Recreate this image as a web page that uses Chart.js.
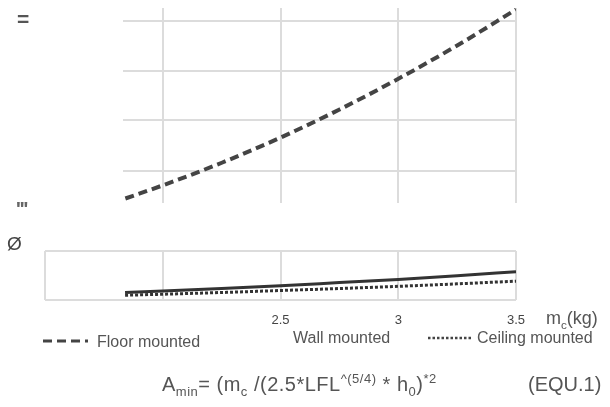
<!DOCTYPE html>
<html>
<head>
<meta charset="utf-8">
<script src="https://cdn.jsdelivr.net/npm/chart.js@4/dist/chart.umd.min.js"></script>
<style>
    html, body { margin: 0; padding: 0; background: #fff; }
    #wrap { position: relative; width: 610px; height: 407px; overflow: hidden; font-family: 'Liberation Sans', Arial, sans-serif; color: #555; }
    canvas { position: absolute; left: 0; top: 0; }
    .lbl { position: absolute; white-space: nowrap; line-height: 1; }
    .lbl sub, .lbl sup { font-size: 0.65em; line-height: 0; }
</style>
</head>
<body>
<div id="wrap">
    <canvas id="topChart" width="610" height="407"></canvas>
    <canvas id="bottomChart" width="610" height="407"></canvas>

    <!-- garbled axis marks on the left -->
    <div class="lbl" style="left:17px; top:8px; font-size:21px; font-weight:bold; color:#555;">=</div>
    <div class="lbl" style="left:16px; top:199px; font-size:20px; font-weight:bold; color:#666; letter-spacing:-1px;">'''</div>
    <div class="lbl" style="left:7px; top:234px; font-size:19px; color:#444;">Ø</div>

    <!-- axis title -->
    <div class="lbl" style="left:546px; top:309px; font-size:18px; color:#555;">m<sub>c</sub>(kg)</div>

    <!-- legend -->
    <svg style="position:absolute; left:42px; top:336px;" width="48" height="10">
        <line x1="1" y1="5" x2="46" y2="5" stroke="#444" stroke-width="3" stroke-dasharray="9,5"></line>
    </svg>
    <div class="lbl" style="left:97px; top:334px; font-size:16px;">Floor mounted</div>
    <div class="lbl" style="left:293px; top:330px; font-size:16px;">Wall mounted</div>
    <svg style="position:absolute; left:427px; top:333px;" width="48" height="10">
        <line x1="1" y1="5" x2="46" y2="5" stroke="#444" stroke-width="2.5" stroke-dasharray="2.5,2"></line>
    </svg>
    <div class="lbl" style="left:477px; top:330px; font-size:16px;">Ceiling mounted</div>

    <!-- equation -->
    <div class="lbl" style="left:162px; top:374px; font-size:20px; letter-spacing:0.5px; color:#555;">A<sub>min</sub>= (m<sub>c</sub> /(2.5*LFL<sup>^(5/4)</sup> * h<sub>0</sub>)<sup>*2</sup></div>
    <div class="lbl" style="left:528px; top:374px; font-size:20px; color:#555;">(EQU.1)</div>
</div>

<script>
    // Data
    const charge = [1.84, 2.0, 2.25, 2.5, 2.75, 3.0, 3.25, 3.5];
    const floorMounted = [28.8, 34.1, 43.1, 53.2, 64.4, 76.7, 90.0, 104.4];
    const wallMounted = [3.2, 3.8, 4.8, 5.9, 7.2, 8.5, 10.0, 11.6];
    const ceilingMounted = [2.1, 2.5, 3.2, 4.0, 4.8, 5.7, 6.7, 7.8];

    // Axis ticks
    const topXTicks = [2, 2.5, 3, 3.5];
    const topYTicks = [40, 60, 80, 100];
    const bottomXTicks = [1.5, 2, 2.5, 3, 3.5];
    const bottomXLabels = ['', '', '2.5', '3', '3.5'];
    const bottomYTicks = [0, 20];

    const toPoints = (ys) => charge.map((x, i) => ({ x: x, y: ys[i] }));
    const setTicks = (values) => (scale) => { scale.ticks = values.map(v => ({ value: v })); };

    const gridStyle = { color: '#dcdcdc', lineWidth: 2, drawTicks: false };

    // Upper panel (floor mounted)
    new Chart(document.getElementById('topChart'), {
        type: 'line',
        data: {
            datasets: [{
                label: 'Floor mounted',
                data: toPoints(floorMounted),
                borderColor: '#444',
                borderWidth: 4,
                borderDash: [9, 5],
                pointRadius: 0,
                cubicInterpolationMode: 'monotone'
            }]
        },
        options: {
            responsive: false,
            animation: false,
            layout: { padding: { left: 123, right: 94, top: 8, bottom: 204 } },
            plugins: { legend: { display: false }, tooltip: { enabled: false } },
            scales: {
                x: {
                    type: 'linear', min: 1.83, max: 3.5,
                    afterBuildTicks: setTicks(topXTicks),
                    ticks: { display: false },
                    grid: gridStyle,
                    border: { display: false }
                },
                y: {
                    min: 27, max: 105,
                    afterBuildTicks: setTicks(topYTicks),
                    ticks: { display: false },
                    grid: gridStyle,
                    border: { display: false }
                }
            }
        }
    });

    // Lower panel (wall and ceiling mounted)
    new Chart(document.getElementById('bottomChart'), {
        type: 'line',
        data: {
            datasets: [
                {
                    label: 'Wall mounted',
                    data: toPoints(wallMounted),
                    borderColor: '#333',
                    borderWidth: 3,
                    pointRadius: 0,
                    cubicInterpolationMode: 'monotone'
                },
                {
                    label: 'Ceiling mounted',
                    data: toPoints(ceilingMounted),
                    borderColor: '#333',
                    borderWidth: 3,
                    borderDash: [3, 2],
                    pointRadius: 0,
                    cubicInterpolationMode: 'monotone'
                }
            ]
        },
        options: {
            responsive: false,
            animation: false,
            layout: { padding: { left: 45, right: 94, top: 251, bottom: 67 } },
            plugins: { legend: { display: false }, tooltip: { enabled: false } },
            scales: {
                x: {
                    type: 'linear', min: 1.5, max: 3.5,
                    afterBuildTicks: setTicks(bottomXTicks),
                    ticks: {
                        padding: 12,
                        color: '#444',
                        font: { family: "'Liberation Sans', Arial", size: 13 },
                        maxRotation: 0,
                        autoSkip: false,
                        callback: (value, index) => bottomXLabels[index]
                    },
                    grid: gridStyle,
                    border: { display: false }
                },
                y: {
                    min: 0, max: 20,
                    afterBuildTicks: setTicks(bottomYTicks),
                    ticks: { display: false },
                    grid: gridStyle,
                    border: { display: false }
                }
            }
        }
    });
</script>
</body>
</html>
